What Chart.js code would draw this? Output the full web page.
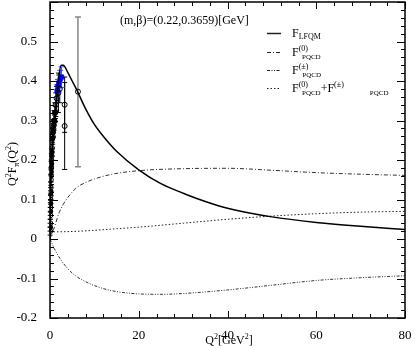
<!DOCTYPE html>
<html lang="en">
<head>
<meta charset="UTF-8">
<title>Q2 F_pi(Q2)</title>
<script src="https://cdn.jsdelivr.net/npm/chart.js"></script>
<style>
  html, body { margin: 0; padding: 0; background: #fff; }
  #wrap { width: 415px; height: 346px; }
</style>
</head>
<body>
<div id="wrap"><canvas id="chart" width="415" height="346"></canvas></div>
<script>
// ---- curves ----
const lfqmQ2  = [0, 0.05, 0.1, 0.2, 0.4, 0.7, 1, 1.5, 2, 2.5, 3, 4, 5, 6, 8, 10, 12, 15, 20, 25, 30, 35, 40, 50, 60, 70, 80];
const lfqmVal = [0, 0.05, 0.09, 0.15, 0.2, 0.25, 0.29, 0.35, 0.41, 0.44, 0.44, 0.422, 0.4, 0.378, 0.33, 0.29, 0.26, 0.222, 0.175, 0.14, 0.116, 0.095, 0.078, 0.056, 0.042, 0.032, 0.024];

const f0Q2  = [0, 0.5, 1, 2, 3, 4, 6, 8, 10, 14, 20, 30, 40, 50, 60, 70, 80];
const f0Val = [0, 0.015, 0.03, 0.065, 0.088, 0.105, 0.13, 0.143, 0.152, 0.164, 0.173, 0.178, 0.179, 0.174, 0.168, 0.164, 0.161];

const fpmQ2  = [0, 1, 2, 4, 6, 8, 10, 14, 20, 25, 30, 40, 50, 60, 70, 80];
const fpmVal = [0, -0.025, -0.045, -0.075, -0.095, -0.108, -0.118, -0.131, -0.139, -0.14, -0.138, -0.129, -0.117, -0.105, -0.098, -0.093];

const sumQ2  = [0, 5, 10, 15, 20, 30, 40, 50, 60, 70, 80];
const sumVal = [0.018, 0.019, 0.022, 0.026, 0.03, 0.04, 0.05, 0.058, 0.064, 0.068, 0.07];

// ---- experimental points ----
const openQ2  = [0.03, 0.05, 0.07, 0.09, 0.11, 0.13, 0.15, 0.18, 0.21, 0.25, 0.3, 0.35, 0.45, 0.6, 0.75, 0.9, 1.1, 1.3, 1.5, 1.9, 2.2, 3.3, 3.3];
const openVal = [0.02, 0.04, 0.06, 0.08, 0.1, 0.11, 0.13, 0.15, 0.16, 0.18, 0.2, 0.21, 0.23, 0.26, 0.28, 0.3, 0.32, 0.34, 0.356, 0.37, 0.38, 0.34, 0.286];
const openErr = [0.01, 0.01, 0.01, 0.012, 0.012, 0.012, 0.014, 0.014, 0.015, 0.016, 0.016, 0.018, 0.02, 0.02, 0.022, 0.025, 0.025, 0.03, 0.03, 0.05, 0.035, 0.07, 0.11];

const fillQ2  = [0.02, 0.06, 0.1, 0.14, 0.2, 0.28, 0.4, 0.55, 0.7, 0.85, 1.0, 1.2];
const fillVal = [0.03, 0.07, 0.09, 0.12, 0.17, 0.19, 0.22, 0.255, 0.27, 0.29, 0.3, 0.32];
const fillErr = [0.01, 0.01, 0.01, 0.01, 0.01, 0.01, 0.01, 0.01, 0.012, 0.012, 0.014, 0.015];

const blueQ2  = [1.6, 1.8, 2.0, 2.3, 2.6];
const blueVal = [0.375, 0.387, 0.395, 0.405, 0.41];
const blueErr = [0.015, 0.017, 0.02, 0.022, 0.026];

const grayQ2  = [6.3];
const grayVal = [0.373];
const grayLo  = [0.183];
const grayHi  = [0.562];

// ---- axis ticks ----
const xMajor = [0, 20, 40, 60, 80];
const yLabels = [-0.2, -0.1, 0, 0.1, 0.2, 0.3, 0.4, 0.5];

const pts = (xs, ys) => xs.map((x, i) => ({ x: x, y: ys[i] }));
const FONT = '"Liberation Serif", "DejaVu Serif", serif';

function isYMajor(v) { return Math.abs(v * 10 - Math.round(v * 10)) < 1e-6; }

// draws text pieces with sub/superscripts: [text, size, dy, dx]
function rich(ctx, x, y, parts, align) {
  let w = 0;
  parts.forEach(p => { ctx.font = p[1] + 'px ' + FONT; w += ctx.measureText(p[0]).width + (p[3] || 0); });
  let cx = align === 'center' ? x - w / 2 : x;
  parts.forEach(p => {
    ctx.font = p[1] + 'px ' + FONT;
    cx += (p[3] || 0);
    ctx.fillText(p[0], cx, y + p[2]);
    cx += ctx.measureText(p[0]).width;
  });
}

const errorBars = {
  id: 'errorBars',
  beforeDatasetsDraw(chart) {
    const ctx = chart.ctx, ys = chart.scales.y;
    ctx.save();
    chart.data.datasets.forEach((ds, i) => {
      if (!ds.errLo) return;
      const meta = chart.getDatasetMeta(i);
      ctx.strokeStyle = ds.errColor;
      ctx.lineWidth = ds.errWidth || 1;
      meta.data.forEach((el, j) => {
        const x = el.x, y1 = ys.getPixelForValue(ds.errLo[j]), y2 = ys.getPixelForValue(ds.errHi[j]);
        const c = ds.capW || 2.5;
        ctx.beginPath();
        ctx.moveTo(x, y1); ctx.lineTo(x, y2);
        ctx.moveTo(x - c, y1); ctx.lineTo(x + c, y1);
        ctx.moveTo(x - c, y2); ctx.lineTo(x + c, y2);
        ctx.stroke();
      });
    });
    ctx.restore();
  }
};

const frame = {
  id: 'frame',
  afterDraw(chart) {
    const ctx = chart.ctx, a = chart.chartArea, xs = chart.scales.x, ys = chart.scales.y;
    ctx.save();
    ctx.strokeStyle = '#000';
    ctx.lineWidth = 1;
    ctx.beginPath();
    xs.ticks.forEach(t => {
      const p = Math.round(xs.getPixelForValue(t.value)) + 0.5;
      const len = xMajor.includes(Math.round(t.value)) ? 7 : 4;
      ctx.moveTo(p, a.bottom); ctx.lineTo(p, a.bottom - len);
      ctx.moveTo(p, a.top); ctx.lineTo(p, a.top + len);
    });
    ys.ticks.forEach(t => {
      const p = Math.round(ys.getPixelForValue(t.value)) + 0.5;
      const len = isYMajor(t.value) ? 8 : 4;
      ctx.moveTo(a.left, p); ctx.lineTo(a.left + len, p);
      ctx.moveTo(a.right, p); ctx.lineTo(a.right - len, p);
    });
    ctx.stroke();
    ctx.lineWidth = 1.5;
    ctx.strokeRect(a.left, a.top, a.right - a.left, a.bottom - a.top);

    // texts
    ctx.fillStyle = '#000';
    ctx.textBaseline = 'alphabetic';
    rich(ctx, 120, 24, [['(m,\u03b2)=(0.22,0.3659)[GeV]', 12, 0]]);

    // legend
    const lx0 = 267, lx1 = 281, tx = 292;
    const rows = [
      { y: 33, dash: [], w: 1.5, parts: [['F', 12, 0], ['LFQM', 8, 2]] },
      { y: 52, dash: [4, 2, 1, 2], w: 1, parts: [['F', 12, 0], ['(0)', 8, -5], ['PQCD', 7, 3, -6]] },
      { y: 70, dash: [3, 1.5, 1, 1.5, 1, 1.5], w: 1, parts: [['F', 12, 0], ['(\u00b1)', 8, -5], ['PQCD', 7, 3, -6]] },
      { y: 88, dash: [1.5, 2], w: 1, parts: [['F', 12, 0], ['(0)', 8, -5], ['PQCD', 7, 3, -6], ['+F', 12, 0], ['(\u00b1)', 8, -5], ['PQCD', 7, 3, 26]] }
    ];
    rows.forEach(r => {
      ctx.beginPath();
      ctx.setLineDash(r.dash);
      ctx.lineWidth = r.w;
      ctx.strokeStyle = '#222';
      ctx.moveTo(lx0, r.y + 0.5); ctx.lineTo(lx1, r.y + 0.5);
      ctx.stroke();
      ctx.setLineDash([]);
      rich(ctx, tx, r.y + 4, r.parts);
    });

    // axis titles
    rich(ctx, 229, 344, [['Q', 12, 0], ['2', 8, -5], ['[GeV', 12, 0], ['2', 8, -5], [']', 12, 0]], 'center');
    ctx.translate(16, 164);
    ctx.rotate(-Math.PI / 2);
    rich(ctx, 0, 0, [['Q', 12, 0], ['2', 8, -5], ['F', 12, 0], ['\u03c0', 8, 3], ['(Q', 12, 0], ['2', 8, -5], [')', 12, 0]], 'center');
    ctx.restore();
  }
};

const lineDs = (label, xs, ys, color, width, dash) => ({
  label: label, data: pts(xs, ys), showLine: true, pointRadius: 0,
  borderColor: color, borderWidth: width, borderDash: dash,
  cubicInterpolationMode: 'monotone', fill: false
});

new Chart(document.getElementById('chart'), {
  type: 'scatter',
  data: {
    datasets: [
      lineDs('F_LFQM', lfqmQ2, lfqmVal, '#000', 1.5, []),
      lineDs('F0_PQCD', f0Q2, f0Val, '#333', 1, [4, 2, 1, 2]),
      lineDs('Fpm_PQCD', fpmQ2, fpmVal, '#333', 1, [3, 1.5, 1, 1.5, 1, 1.5]),
      lineDs('sum', sumQ2, sumVal, '#222', 1, [1.5, 2]),
      {
        label: 'gray', data: pts(grayQ2, grayVal), pointStyle: 'circle', pointRadius: 2.5,
        borderColor: '#000', backgroundColor: 'rgba(0,0,0,0)', borderWidth: 1,
        errLo: grayLo, errHi: grayHi, errColor: '#888', errWidth: 1.5, capW: 3
      },
      {
        label: 'open', data: pts(openQ2, openVal), pointStyle: 'circle', pointRadius: 2.5,
        borderColor: '#000', backgroundColor: 'rgba(0,0,0,0)', borderWidth: 1,
        errLo: openVal.map((v, i) => v - openErr[i]), errHi: openVal.map((v, i) => v + openErr[i]), errColor: '#000', capW: 2.5
      },
      {
        label: 'filled', data: pts(fillQ2, fillVal), pointStyle: 'circle', pointRadius: 2.5,
        borderColor: '#000', backgroundColor: '#000', borderWidth: 1,
        errLo: fillVal.map((v, i) => v - fillErr[i]), errHi: fillVal.map((v, i) => v + fillErr[i]), errColor: '#000', capW: 2.5
      },
      {
        label: 'blue', data: pts(blueQ2, blueVal), pointStyle: 'rect', pointRadius: 3,
        borderColor: '#0000ff', backgroundColor: '#0000ff', borderWidth: 1,
        errLo: blueVal.map((v, i) => v - blueErr[i]), errHi: blueVal.map((v, i) => v + blueErr[i]), errColor: '#3355ff', capW: 3
      }
    ]
  },
  options: {
    responsive: false,
    animation: false,
    devicePixelRatio: 1,
    layout: { autoPadding: false, padding: { top: 2, right: 10, left: 0, bottom: 0 } },
    plugins: { legend: { display: false }, tooltip: { enabled: false } },
    scales: {
      x: {
        type: 'linear', min: 0, max: 80,
        grid: { display: false },
        border: { display: false },
        afterFit: s => { s.height = 28; s.paddingLeft = 0; s.paddingRight = 0; },
        ticks: {
          stepSize: 4, autoSkip: false, maxRotation: 0, padding: 2,
          color: '#000', font: { family: FONT, size: 13 },
          callback: v => xMajor.includes(Math.round(v)) ? String(Math.round(v)) : ''
        }
      },
      y: {
        type: 'linear', min: -0.2, max: 0.6,
        grid: { display: false },
        border: { display: false },
        afterFit: s => { s.width = 50; s.paddingTop = 0; s.paddingBottom = 0; },
        ticks: {
          stepSize: 0.02, autoSkip: false, padding: 5,
          color: '#000', font: { family: FONT, size: 13 },
          callback: v => {
            const m = yLabels.find(l => Math.abs(l - v) < 1e-6);
            if (m === undefined) return '';
            return m === 0 ? '0' : m.toFixed(1);
          }
        }
      }
    }
  },
  plugins: [errorBars, frame]
});
</script>
</body>
</html>
